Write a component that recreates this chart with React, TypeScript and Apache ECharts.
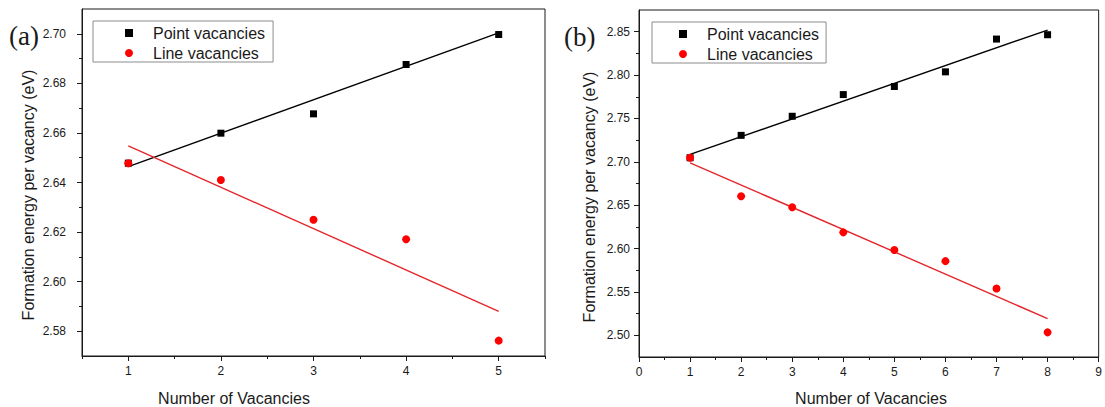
import React, { useEffect, useRef } from "react";
import * as echarts from "echarts";

// ---------- Data: panel (a) ----------
const xA = [1, 2, 3, 4, 5];
const pointA = [2.6478, 2.6599, 2.6677, 2.6876, 2.6997];
const lineA = [2.6478, 2.641, 2.625, 2.6171, 2.5762];
const fitXA = [1, 5];
const pointFitA = [2.6464, 2.7004];
const lineFitA = [2.6548, 2.588];

// ---------- Data: panel (b) ----------
const xB = [1, 2, 3, 4, 5, 6, 7, 8];
const pointB = [2.7047, 2.7305, 2.7525, 2.7775, 2.7868, 2.8037, 2.8415, 2.8465];
const lineB = [2.7047, 2.6603, 2.6476, 2.6187, 2.5983, 2.5855, 2.5539, 2.5034];
const fitXB = [1, 8];
const pointFitB = [2.7085, 2.8519];
const lineFitB = [2.6989, 2.5192];

// ---------- Tick values ----------
const xMajorA = [1, 2, 3, 4, 5];
const xMinorA = [0.5, 1.5, 2.5, 3.5, 4.5, 5.5];
const yMajorA = [2.58, 2.6, 2.62, 2.64, 2.66, 2.68, 2.7];
const yMinorA = [2.59, 2.61, 2.63, 2.65, 2.67, 2.69];
const xMajorB = [0, 1, 2, 3, 4, 5, 6, 7, 8, 9];
const xMinorB = [0.5, 1.5, 2.5, 3.5, 4.5, 5.5, 6.5, 7.5, 8.5];
const yMajorB = [2.5, 2.55, 2.6, 2.65, 2.7, 2.75, 2.8, 2.85];
const yMinorB = [2.525, 2.575, 2.625, 2.675, 2.725, 2.775, 2.825];

const seriesNames = ["Point vacancies", "Line vacancies"];
const xTitle = "Number of Vacancies";
const yTitle = "Formation energy per vacancy (eV)";

const FONT = "'Liberation Sans', Arial, sans-serif";
const INK = "#1a1a1a";
const RED = "#ff0000";
const RED_LINE = "#e5262b";

const near = (arr: number[], v: number) => arr.some((a) => Math.abs(a - v) < 1e-6);

function makeAxis(
  dim: "x" | "y",
  gridIndex: number,
  min: number,
  max: number,
  interval: number,
  major: number[],
  minor: number[],
  digits: number,
  labelMargin: number
) {
  const base = {
    type: "value",
    gridIndex,
    min,
    max,
    interval,
    position: dim === "x" ? "bottom" : "left",
    splitLine: { show: false },
  };
  return [
    {
      ...base,
      axisLine: { show: true, onZero: false, lineStyle: { color: INK, width: 1 } },
      axisTick: {
        show: true,
        inside: false,
        length: 5,
        customValues: major,
        lineStyle: { color: INK, width: 1 },
      },
      axisLabel: {
        show: true,
        customValues: major,
        margin: labelMargin,
        color: INK,
        fontFamily: FONT,
        fontSize: 12,
        formatter: (v: number) => (near(major, v) ? v.toFixed(digits) : ""),
      },
    },
    {
      ...base,
      axisLine: { show: false, onZero: false },
      axisTick: {
        show: true,
        inside: false,
        length: 3,
        customValues: minor,
        lineStyle: { color: INK, width: 1 },
      },
      axisLabel: { show: false },
    },
  ];
}

const pairs = (xs: number[], ys: number[]) => xs.map((x, i) => [x, ys[i]]);

function panelSeries(
  xAxisIndex: number,
  yAxisIndex: number,
  xs: number[],
  pts: number[],
  lns: number[],
  fx: number[],
  pf: number[],
  lf: number[]
) {
  return [
    {
      type: "line",
      name: "Point fit",
      xAxisIndex,
      yAxisIndex,
      data: pairs(fx, pf),
      showSymbol: false,
      symbol: "none",
      lineStyle: { color: "#000", width: 1.4 },
      z: 2,
    },
    {
      type: "line",
      name: "Line fit",
      xAxisIndex,
      yAxisIndex,
      data: pairs(fx, lf),
      showSymbol: false,
      symbol: "none",
      lineStyle: { color: RED_LINE, width: 1.4 },
      z: 2,
    },
    {
      type: "scatter",
      name: seriesNames[0],
      xAxisIndex,
      yAxisIndex,
      data: pairs(xs, pts),
      symbol: "rect",
      symbolSize: 7,
      itemStyle: { color: "#000", opacity: 1 },
      z: 3,
    },
    {
      type: "scatter",
      name: seriesNames[1],
      xAxisIndex,
      yAxisIndex,
      data: pairs(xs, lns),
      symbol: "circle",
      symbolSize: 8,
      itemStyle: { color: RED, opacity: 1 },
      z: 4,
    },
  ];
}

function makeLegend(left: number, top: number, padLeft: number, padRight: number) {
  return {
    left,
    top,
    orient: "vertical",
    data: [
      { name: seriesNames[0], icon: "rect" },
      { name: seriesNames[1], icon: "circle" },
    ],
    itemWidth: 8,
    itemHeight: 8,
    itemGap: 4,
    padding: [4, padRight, 1, padLeft],
    backgroundColor: "#fff",
    borderColor: "#8c8c8c",
    borderWidth: 1,
    borderRadius: 0,
    selectedMode: false,
    itemStyle: { opacity: 1 },
    textStyle: {
      fontFamily: FONT,
      fontSize: 16,
      color: INK,
      lineHeight: 16,
      padding: [0, 0, 0, 15],
    },
  };
}

const titleStyle = {
  fill: INK,
  fontFamily: FONT,
  fontSize: 16,
  textAlign: "center",
  textVerticalAlign: "middle",
};

const option = {
  animation: false,
  backgroundColor: "#fff",
  grid: [
    { left: 82, top: 9, width: 463, height: 347, show: true, borderColor: INK, borderWidth: 1, backgroundColor: "transparent" },
    { left: 639, top: 10, width: 464, height: 347, show: true, borderColor: INK, borderWidth: 1, backgroundColor: "transparent" },
  ],
  xAxis: [
    ...makeAxis("x", 0, 0.5, 5.5, 0.5, xMajorA, xMinorA, 0, 9),
    ...makeAxis("x", 1, 0, 9, 0.5, xMajorB, xMinorB, 0, 9),
  ],
  yAxis: [
    ...makeAxis("y", 0, 2.57, 2.71, 0.01, yMajorA, yMinorA, 2, 16),
    ...makeAxis("y", 1, 2.475, 2.875, 0.025, yMajorB, yMinorB, 2, 9),
  ],
  legend: [makeLegend(93, 21, 32, 8), makeLegend(652, 22, 27, 7)],
  series: [
    ...panelSeries(0, 0, xA, pointA, lineA, fitXA, pointFitA, lineFitA),
    ...panelSeries(2, 2, xB, pointB, lineB, fitXB, pointFitB, lineFitB),
  ],
  graphic: [
    {
      type: "text",
      x: 9,
      y: 36,
      style: { text: "(a)", fill: INK, fontFamily: "'Liberation Serif', 'Times New Roman', serif", fontSize: 27, textAlign: "left", textVerticalAlign: "middle" },
    },
    {
      type: "text",
      x: 564,
      y: 37,
      style: { text: "(b)", fill: INK, fontFamily: "'Liberation Serif', 'Times New Roman', serif", fontSize: 27, textAlign: "left", textVerticalAlign: "middle" },
    },
    { type: "text", x: 234, y: 398, style: { ...titleStyle, text: xTitle } },
    { type: "text", x: 871, y: 398, style: { ...titleStyle, text: xTitle } },
    { type: "text", x: 28.5, y: 195, rotation: Math.PI / 2, style: { ...titleStyle, text: yTitle } },
    { type: "text", x: 589, y: 197, rotation: Math.PI / 2, style: { ...titleStyle, text: yTitle } },
  ],
};

export default function App() {
  const ref = useRef<HTMLDivElement>(null);
  useEffect(() => {
    if (!ref.current) return;
    const chart = echarts.init(ref.current, null, { renderer: "svg" });
    chart.setOption(option as any);
    return () => chart.dispose();
  }, []);
  return (
    <div
      ref={ref}
      style={{ position: "fixed", left: 0, top: 0, width: 1105, height: 407, background: "#fff" }}
    />
  );
}
